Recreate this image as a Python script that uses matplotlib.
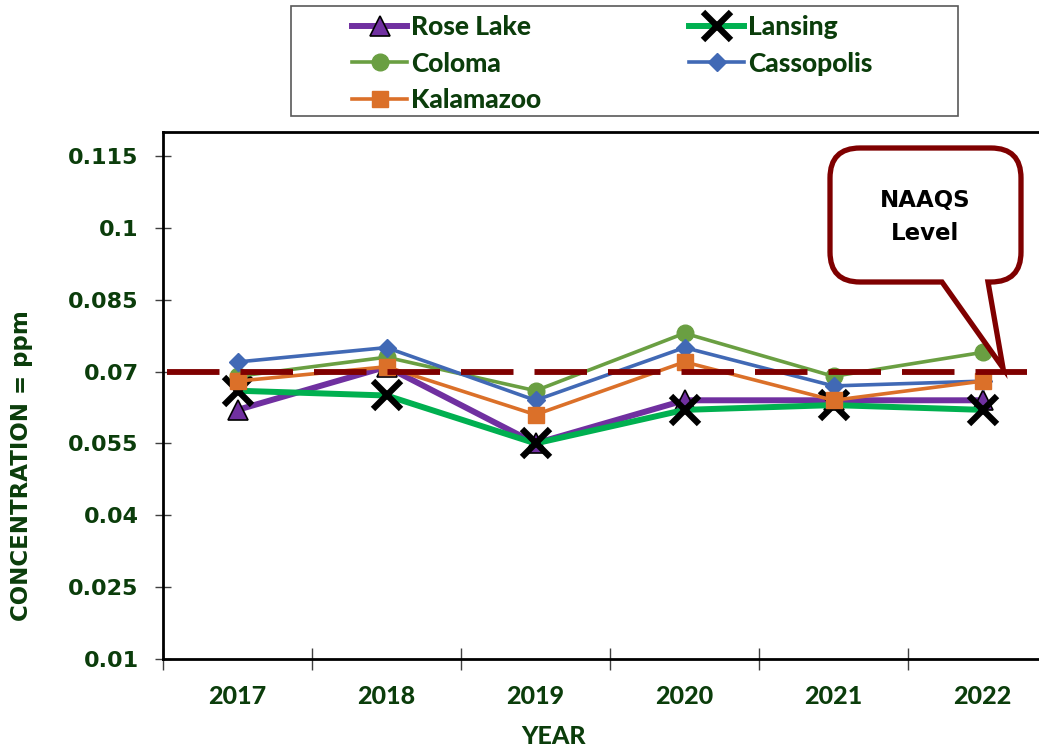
import numpy as np
import matplotlib
matplotlib.use("Agg")
from matplotlib import pyplot as plt
from matplotlib.path import Path
from matplotlib.patches import PathPatch, Rectangle

# ozone design values per monitoring site, ppm
years = ["2017", "2018", "2019", "2020", "2021", "2022"]
rose_lake = [0.062, 0.071, 0.055, 0.064, 0.064, 0.064]
lansing = [0.066, 0.065, 0.055, 0.062, 0.063, 0.062]
coloma = [0.069, 0.073, 0.066, 0.078, 0.069, 0.074]
cassopolis = [0.072, 0.075, 0.064, 0.075, 0.067, 0.068]
kalamazoo = [0.068, 0.071, 0.061, 0.072, 0.064, 0.068]
naaqs = 0.070

yticks = [0.01, 0.025, 0.04, 0.055, 0.07, 0.085, 0.1, 0.115]
ytick_labels = ["0.01", "0.025", "0.04", "0.055", "0.07", "0.085", "0.1", "0.115"]

txt_col = "#0B3D0B"
dark_red = "#7F0000"
wide = ['DejaVu Sans']
narrow = ['Lato', 'DejaVu Sans']
plt.rcParams['font.family'] = narrow

W, H = 1039, 749
fig = plt.figure(figsize=(W / 100, H / 100), dpi=100)
ax = fig.add_axes([163 / W, 1 - 659 / H, (1057 - 163) / W, (659 - 132) / H])

x = np.arange(len(years))
l_rose, = ax.plot(x, rose_lake, color="#7030A0", lw=4.3, marker="^", ms=14,
                  mfc="#7030A0", mec="black", mew=1.2, zorder=3)
l_lans, = ax.plot(x, lansing, color="#00B050", lw=4.3, marker="x", ms=20,
                  mec="black", mew=4.5, zorder=4)
l_colo, = ax.plot(x, coloma, color="#6A9F42", lw=2.6, marker="o", ms=12,
                  mfc="#6A9F42", mec="#6A9F42", zorder=5)
l_cass, = ax.plot(x, cassopolis, color="#4169B5", lw=2.6, marker="D", ms=9,
                  mfc="#4169B5", mec="#4169B5", zorder=6)
l_kala, = ax.plot(x, kalamazoo, color="#DB7029", lw=2.6, marker="s", ms=12,
                  mfc="#DB7029", mec="#DB7029", zorder=7)

# standard level, dashed across the plot
ax.plot([-0.47, 5.3], [naaqs, naaqs], color=dark_red, lw=4.2,
        dashes=(9, 3.6), solid_capstyle="butt", dash_capstyle="butt", zorder=8)

ax.set_xlim(-0.5, 5.5)
ax.set_ylim(0.01, 0.12)
ax.set_yticks(yticks)
ax.set_yticklabels(ytick_labels)
ax.set_xticks(x)
ax.set_xticklabels(years)
ax.set_xticks(np.arange(-0.5, 6.0, 1.0), minor=True)

for s in ax.spines.values():
    s.set_linewidth(2.0)
    s.set_color("black")

ax.tick_params(axis="y", direction="inout", length=11, width=1, color="#404040",
               labelcolor=txt_col, pad=12)
ax.tick_params(axis="x", which="major", length=0, labelcolor=txt_col, pad=19)
ax.tick_params(axis="x", which="minor", direction="inout", length=16, width=1,
               color="#404040")
for lbl in ax.get_yticklabels():
    lbl.set_family(wide)
    lbl.set_fontweight("bold")
    lbl.set_fontsize(16)
for lbl in ax.get_xticklabels():
    lbl.set_fontweight("black")
    lbl.set_fontsize(18)

fig.text(22 / W, 1 - 466 / H, "CONCENTRATION = ppm", rotation=90, ha="center",
         va="center", fontsize=16.5, fontweight="bold", color=txt_col, family=wide)
fig.text(553 / W, 1 - 736 / H, "YEAR", ha="center", va="center", fontsize=18,
         fontweight="black", color=txt_col)

# legend frame plus two single-column legends, read row-wise
fig.patches.append(Rectangle((291 / W, 1 - 116 / H), (958 - 291) / W, 110 / H,
                             transform=fig.transFigure, facecolor="white",
                             edgecolor="#595959", lw=1.2, zorder=1))
cols = [([l_rose, l_colo, l_kala], ["Rose Lake", "Coloma", "Kalamazoo"], 352),
        ([l_lans, l_cass], ["Lansing", "Cassopolis"], 689)]
for hs, ls, left in cols:
    leg = fig.legend(hs, ls, loc="upper left", bbox_to_anchor=(left / W, 1 - 15 / H),
                     frameon=False, prop={'size': 19, 'weight': 'black'},
                     handlelength=2.1, handletextpad=0.15, labelspacing=0.48,
                     borderpad=0, borderaxespad=0)
    for t in leg.get_texts():
        t.set_color(txt_col)


# callout box with a pointer down to the dashed line
def fig_pt(px, py):
    return (px / W, 1 - py / H)


x0, x1, y0, y1, r = 830, 1021, 148, 282, 30
pts = [
    ((x0 + r, y0), Path.MOVETO),
    ((x1 - r, y0), Path.LINETO),
    ((x1, y0), Path.CURVE3), ((x1, y0 + r), Path.CURVE3),
    ((x1, y1 - r), Path.LINETO),
    ((x1, y1), Path.CURVE3), ((x1 - r, y1), Path.CURVE3),
    ((988, y1), Path.LINETO),
    ((1003, 368), Path.LINETO),
    ((942, y1), Path.LINETO),
    ((x0 + r, y1), Path.LINETO),
    ((x0, y1), Path.CURVE3), ((x0, y1 - r), Path.CURVE3),
    ((x0, y0 + r), Path.LINETO),
    ((x0, y0), Path.CURVE3), ((x0 + r, y0), Path.CURVE3),
    ((x0 + r, y0), Path.CLOSEPOLY),
]
verts = [fig_pt(*p) for p, _ in pts]
codes = [c for _, c in pts]
callout = PathPatch(Path(verts, codes), transform=fig.transFigure,
                    facecolor="white", edgecolor=dark_red, lw=3.8,
                    joinstyle="miter", zorder=10)
fig.patches.append(callout)
fig.text(925 / W, 1 - 200 / H, "NAAQS", ha="center", va="center",
         fontsize=16.5, fontweight="bold", color="black", family=wide, zorder=11)
fig.text(925 / W, 1 - 233 / H, "Level", ha="center", va="center",
         fontsize=16.5, fontweight="bold", color="black", family=wide, zorder=11)

fig.savefig("out.png", dpi=100)
